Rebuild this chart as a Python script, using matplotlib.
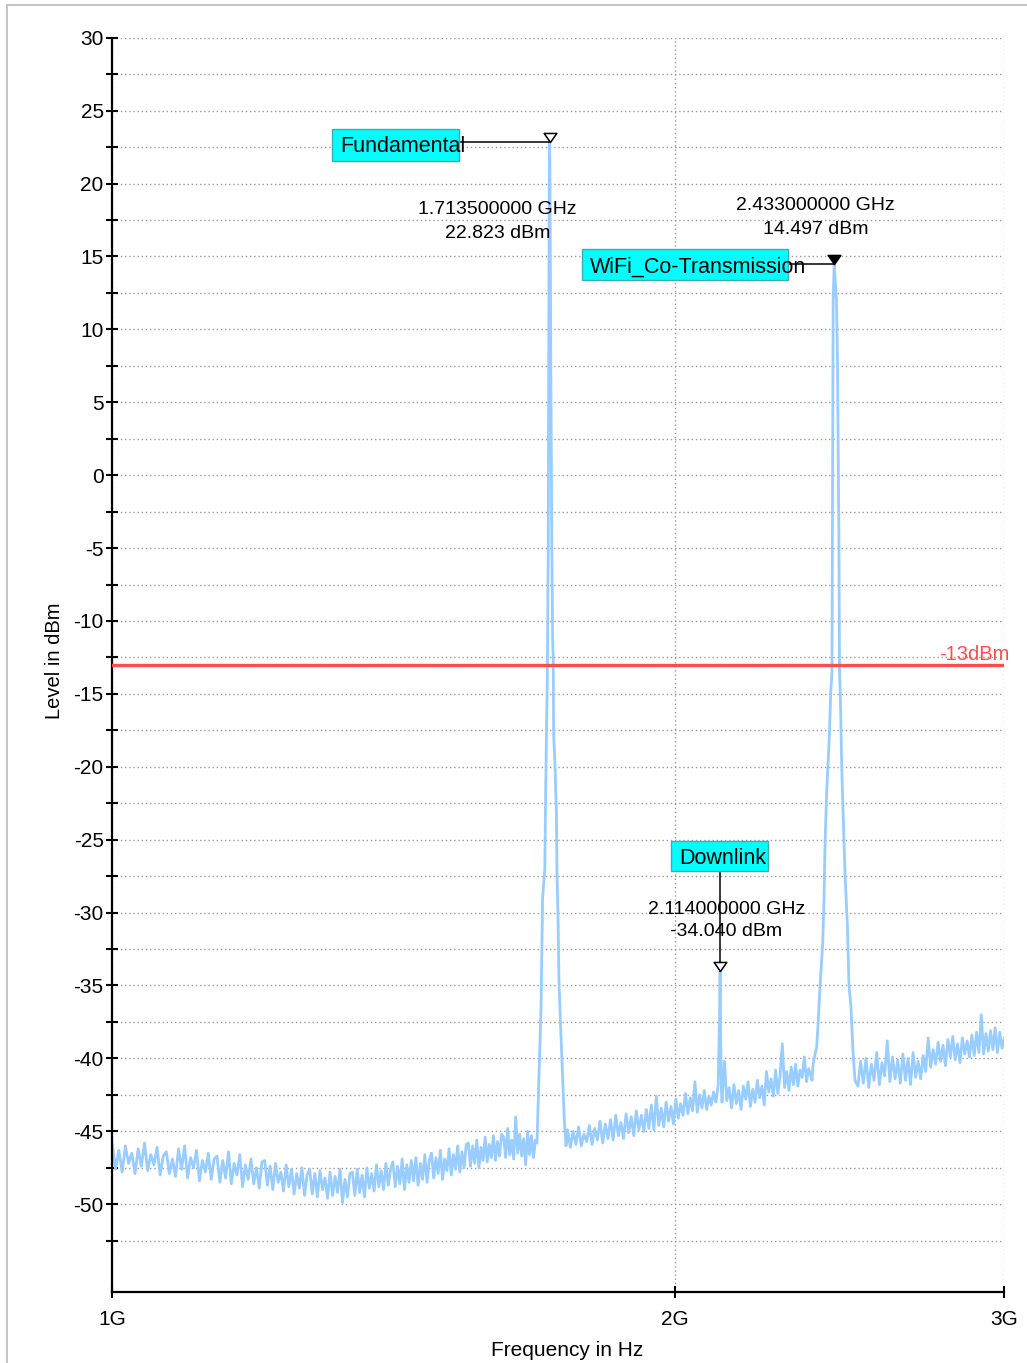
import numpy as np
import matplotlib
matplotlib.use("Agg")
import matplotlib.pyplot as plt
from matplotlib.patches import Rectangle
from matplotlib.path import Path
from matplotlib.ticker import FixedLocator, NullLocator, FixedFormatter

plt.rcParams['font.family'] = ['Liberation Sans', 'DejaVu Sans']
plt.rcParams['axes.unicode_minus'] = False

# ---------------- data ----------------
freq_ticks_hz = [1e9, 2e9, 3e9]
freq_tick_labels = ["1G", "2G", "3G"]
level_ticks = [30, 25, 20, 15, 10, 5, 0, -5, -10, -15, -20, -25, -30, -35, -40, -45, -50]
level_tick_labels = ["30", "25", "20", "15", "10", "5", "0", "-5", "-10", "-15", "-20",
                     "-25", "-30", "-35", "-40", "-45", "-50"]
level_minor_ticks = [27.5, 22.5, 17.5, 12.5, 7.5, 2.5, -2.5, -7.5, -12.5, -17.5, -22.5,
                     -27.5, -32.5, -37.5, -42.5, -47.5, -52.5]

# noise floor segments: sweep start/stop (GHz) and the sampled levels (dBm)
floor_a_span_ghz = (1.000, 1.684)
floor_a_dbm = [
    -45.9, -47.6, -46.3, -47.8, -46.0, -47.2, -46.5, -47.9, -46.2, -47.4, -45.8, -47.7, -46.6, -47.3, -46.1, -48.0, -46.7,
    -46.4, -47.9, -46.9, -48.1, -46.2, -47.6, -46.0, -48.2, -46.8, -47.5, -46.3, -48.4, -47.0, -47.8, -46.5, -48.3, -46.9,
    -46.7, -48.5, -47.0, -48.2, -46.4, -48.6, -47.2, -48.0, -46.6, -48.8, -47.3, -48.3, -46.9, -48.6, -47.5, -48.9, -47.1,
    -47.0, -48.7, -47.4, -49.0, -47.2, -48.5, -47.8, -49.1, -47.3, -48.8, -47.6, -49.3, -47.9, -48.9, -47.5, -49.4, -48.0,
    -47.6, -49.3, -47.9, -49.5, -47.7, -49.0, -48.2, -49.6, -47.8, -49.4, -48.1, -49.2, -47.6, -49.9, -48.3, -49.5, -47.9,
    -47.8, -49.4, -47.6, -49.2, -48.0, -49.5, -47.5, -48.9, -47.9, -49.1, -47.3, -48.8, -47.7, -49.0, -47.2, -48.7, -47.6,
    -47.1, -48.8, -47.4, -48.6, -46.9, -49.0, -47.3, -48.5, -47.0, -48.4, -46.8, -48.7, -47.2, -48.3, -46.6, -48.5, -47.0,
    -46.5, -48.2, -46.8, -47.9, -46.3, -48.3, -46.9, -47.7, -46.2, -48.0, -46.6, -47.6, -46.0, -47.8, -46.4, -47.5, -45.9,
    -45.8, -47.4, -46.0, -47.2, -45.6, -47.5, -46.1, -47.0, -45.4, -47.1, -45.9, -46.8, -45.3, -47.0, -45.7, -46.7, -45.2,
    -45.4, -46.8, -44.8, -46.6, -45.6, -46.9, -44.0, -46.5, -45.2, -46.7, -45.5, -47.3, -45.0, -46.6, -45.3, -46.8, -45.6,
]

fund_peak_ghz = [1.6872, 1.6910, 1.6939, 1.6956, 1.6989, 1.7035, 1.7056, 1.7073, 1.7086, 1.7107,
                 1.7120, 1.7128, 1.7135, 1.7142, 1.7158, 1.7183, 1.7200, 1.7213, 1.7221, 1.7251,
                 1.7281, 1.7293, 1.7313, 1.7334, 1.7372, 1.7411, 1.7449, 1.7486]
fund_peak_dbm = [-45.8, -41.5, -38.5, -36.5, -29.0, -27.0, -21.0, -17.0, -14.5, -5.0,
                 10.0, 20.0, 22.823, 21.5, 10.0, -5.0, -11.2, -12.5, -17.7, -20.0,
                 -23.3, -27.5, -30.0, -34.6, -38.0, -41.2, -44.2, -46.0]

floor_b_span_ghz = (1.752, 2.103)
floor_b_dbm = [
    -44.9, -46.1, -45.0, -45.9, -44.7, -46.0, -45.2, -45.7, -44.6, -45.9, -44.8, -45.6, -44.3, -45.8, -44.5,
    -45.5, -44.2, -45.6, -43.9, -45.3, -44.4, -45.5, -43.8, -45.1, -44.0, -45.3, -43.6, -44.9, -43.9, -45.0,
    -43.5, -44.8, -43.2, -44.9, -42.6, -44.6, -43.4, -44.7, -43.0, -44.3, -43.3, -44.5, -42.8, -44.1, -43.1,
    -43.9, -42.4, -43.8, -42.7, -43.6, -41.6, -43.7, -42.5, -43.4, -42.2, -43.5, -42.6, -43.2, -42.3, -43.0,
]

downlink_spike_ghz = [2.1059, 2.1090, 2.1125, 2.1140, 2.1155, 2.1175]
downlink_spike_dbm = [-42.5, -41.8, -37.0, -34.04, -38.5, -42.2]

floor_c_span_ghz = (2.119, 2.364)
floor_c_dbm = [
    -43.0, -40.2, -42.9, -42.0, -43.4, -41.8, -43.1, -42.2, -43.5, -41.9,
    -42.8, -41.6, -43.3, -42.1, -43.0, -41.5, -42.7, -41.9, -43.2, -40.9,
    -42.3, -41.4, -42.6, -40.8, -42.4, -41.2, -39.0, -42.0, -40.9, -42.2,
    -40.6, -41.8, -40.4, -41.9, -40.8, -41.3, -39.9, -41.6, -40.7, -41.2,
]

wifi_peak_ghz = [2.3673, 2.3711, 2.3811, 2.3857, 2.3907, 2.3987, 2.4025, 2.4055, 2.4105, 2.4183,
                 2.4225, 2.4263, 2.4281, 2.4299, 2.4330, 2.4353, 2.4398, 2.4428, 2.4473, 2.4489,
                 2.4525, 2.4555, 2.4603, 2.4655, 2.4731, 2.4777, 2.4838, 2.4899, 2.4960]
wifi_peak_dbm = [-41.5, -40.3, -39.2, -37.4, -35.1, -32.1, -29.2, -25.5, -21.7, -18.0,
                 -15.0, -13.5, 0.0, 12.0, 14.497, 13.6, 12.0, 8.0, -5.0, -13.2,
                 -16.2, -19.9, -23.6, -27.3, -31.0, -35.0, -36.5, -39.5, -41.5]

floor_d_span_ghz = (2.505, 3.000)
floor_d_dbm = [
    -41.9, -40.2, -41.7, -40.0, -42.0, -40.4, -41.5, -39.6, -41.8, -40.3, -41.2, -38.8, -41.6, -39.9, -41.4,
    -40.1, -41.7, -39.7, -41.5, -40.0, -41.8, -39.6, -41.3, -40.2, -41.4, -39.8, -40.9, -38.6, -40.6, -39.4,
    -40.4, -38.9, -40.2, -39.1, -40.5, -38.7, -39.9, -38.5, -40.1, -39.0, -40.3, -38.6, -39.7, -38.8, -39.9,
    -38.4, -39.8, -38.2, -39.6, -37.0, -39.7, -38.3, -39.5, -38.1, -39.4, -37.9, -39.6, -38.2, -39.3, -38.6,
]

marker_names = ["Fundamental", "WiFi_Co-Transmission", "Downlink"]
marker_ghz = [1.7135, 2.4330, 2.1140]
marker_dbm = [22.823, 14.497, -34.040]
marker_filled = [False, True, False]

limit_dbm = -13
limit_label = "-13dBm"

# ---------------- assemble trace ----------------
def sweep(span, levels):
    return np.linspace(span[0], span[1], len(levels)), np.asarray(levels, float)

pieces = [
    sweep(floor_a_span_ghz, floor_a_dbm),
    (np.asarray(fund_peak_ghz), np.asarray(fund_peak_dbm)),
    sweep(floor_b_span_ghz, floor_b_dbm),
    (np.asarray(downlink_spike_ghz), np.asarray(downlink_spike_dbm)),
    sweep(floor_c_span_ghz, floor_c_dbm),
    (np.asarray(wifi_peak_ghz), np.asarray(wifi_peak_dbm)),
    sweep(floor_d_span_ghz, floor_d_dbm),
]
trace_hz = np.concatenate([p[0] for p in pieces]) * 1e9
trace_dbm = np.concatenate([p[1] for p in pieces])

# ---------------- figure ----------------
W, H = 1027, 1363
fig = plt.figure(figsize=(W / 100, H / 100), dpi=100)
fig.patch.set_facecolor("white")


def px(x, y):
    """pixel position (from top-left) -> figure fraction"""
    return x / W, 1 - y / H


ax_l, ax_r, ax_t, ax_b = 112.3, 1004.3, 37.7, 1291.7
ax = fig.add_axes([ax_l / W, 1 - ax_b / H, (ax_r - ax_l) / W, (ax_b - ax_t) / H])
ax.set_xscale("log")
ax.set_xlim(1e9, 3e9)
ax.set_ylim(-56, 30)

for s in ("top", "right"):
    ax.spines[s].set_visible(False)
for s in ("left", "bottom"):
    ax.spines[s].set_linewidth(1.6)
    ax.spines[s].set_color("black")

ax.xaxis.set_major_locator(FixedLocator(freq_ticks_hz))
ax.xaxis.set_major_formatter(FixedFormatter(freq_tick_labels))
ax.xaxis.set_minor_locator(NullLocator())
ax.yaxis.set_major_locator(FixedLocator(level_ticks))
ax.yaxis.set_major_formatter(FixedFormatter(level_tick_labels))
ax.yaxis.set_minor_locator(FixedLocator(level_minor_ticks))

ax.tick_params(axis="both", which="both", direction="inout", length=8.4, width=1.5,
               color="black", labelsize=15, labelcolor="black")
ax.tick_params(axis="y", which="both", pad=2.0)
ax.tick_params(axis="x", which="both", pad=9)

grid_kw = dict(color="#9a9a9a", linestyle=(0, (1, 2)), linewidth=1.0)
ax.grid(True, axis="y", which="both", **grid_kw)
ax.grid(True, axis="x", which="major", **grid_kw)
ax.set_axisbelow(True)

# measured trace
ax.plot(trace_hz, trace_dbm, color="#99CCFF", lw=2.0, zorder=2)

# limit line
ax.axhline(limit_dbm, color="#FF4D4D", lw=2.4, zorder=4)
ax.text(3.02e9, limit_dbm + 0.35, limit_label, color="#FF4D4D", fontsize=14.5,
        ha="right", va="baseline", clip_on=False, zorder=5)

# axis titles
fig.text(*px(55, 661), "Level in dBm", rotation=90, ha="center", va="center", fontsize=14.5)
fig.text(*px(567, 1351), "Frequency in Hz", ha="center", va="center", fontsize=15)

# marker annotations
tip_marker = Path([(-0.7, 1.0), (0.7, 1.0), (0.0, 0.0), (-0.7, 1.0)],
                  [Path.MOVETO, Path.LINETO, Path.LINETO, Path.CLOSEPOLY])

box_px = [(332, 129, 459, 161), (582, 249, 788, 280), (671, 841, 768, 871)]
label_px = [(340, 147), (590, 267), (679, 858)]
info_px = [((497, 210), (498, 234)), ((815, 206), (816, 230)), ((727, 909), (726, 932))]


def to_data(x, y):
    return ax.transData.inverted().transform(fig.transFigure.transform(px(x, y)))


for i, name in enumerate(marker_names):
    f_hz = marker_ghz[i] * 1e9
    lvl = marker_dbm[i]
    x0, y0, x1, y1 = box_px[i]
    fig.add_artist(Rectangle(px(x0, y1), (x1 - x0) / W, (y1 - y0) / H,
                             transform=fig.transFigure, facecolor="#00FFFF",
                             edgecolor="#3AAFB0", lw=1.0, zorder=5))
    fig.text(*px(*label_px[i]), name, ha="left", va="center", fontsize=15.5, zorder=6)
    if i < 2:
        bx, _ = to_data(x1, (y0 + y1) / 2)
        ax.plot([bx, f_hz], [lvl, lvl], color="black", lw=1.1, zorder=6, clip_on=False)
    else:
        _, by = to_data((x0 + x1) / 2, y1)
        ax.plot([f_hz, f_hz], [by, lvl], color="black", lw=1.1, zorder=6, clip_on=False)
    ax.plot([f_hz], [lvl], marker=tip_marker, markersize=13,
            markerfacecolor="black" if marker_filled[i] else "white",
            markeredgecolor="black", markeredgewidth=1.1, zorder=7, clip_on=False)
    (tx1, ty1), (tx2, ty2) = info_px[i]
    fig.text(*px(tx1, ty1), f"{marker_ghz[i]:.9f} GHz", ha="center", va="center",
             fontsize=14, zorder=6)
    fig.text(*px(tx2, ty2), f"{marker_dbm[i]:.3f} dBm", ha="center", va="center",
             fontsize=14, zorder=6)

# panel frame
fig.add_artist(Rectangle(px(7, H + 20), 1.2, (H + 15) / H, transform=fig.transFigure,
                         fill=False, edgecolor="#C4C4C4", lw=1.5, zorder=0))

fig.savefig("out.png", dpi=100)
